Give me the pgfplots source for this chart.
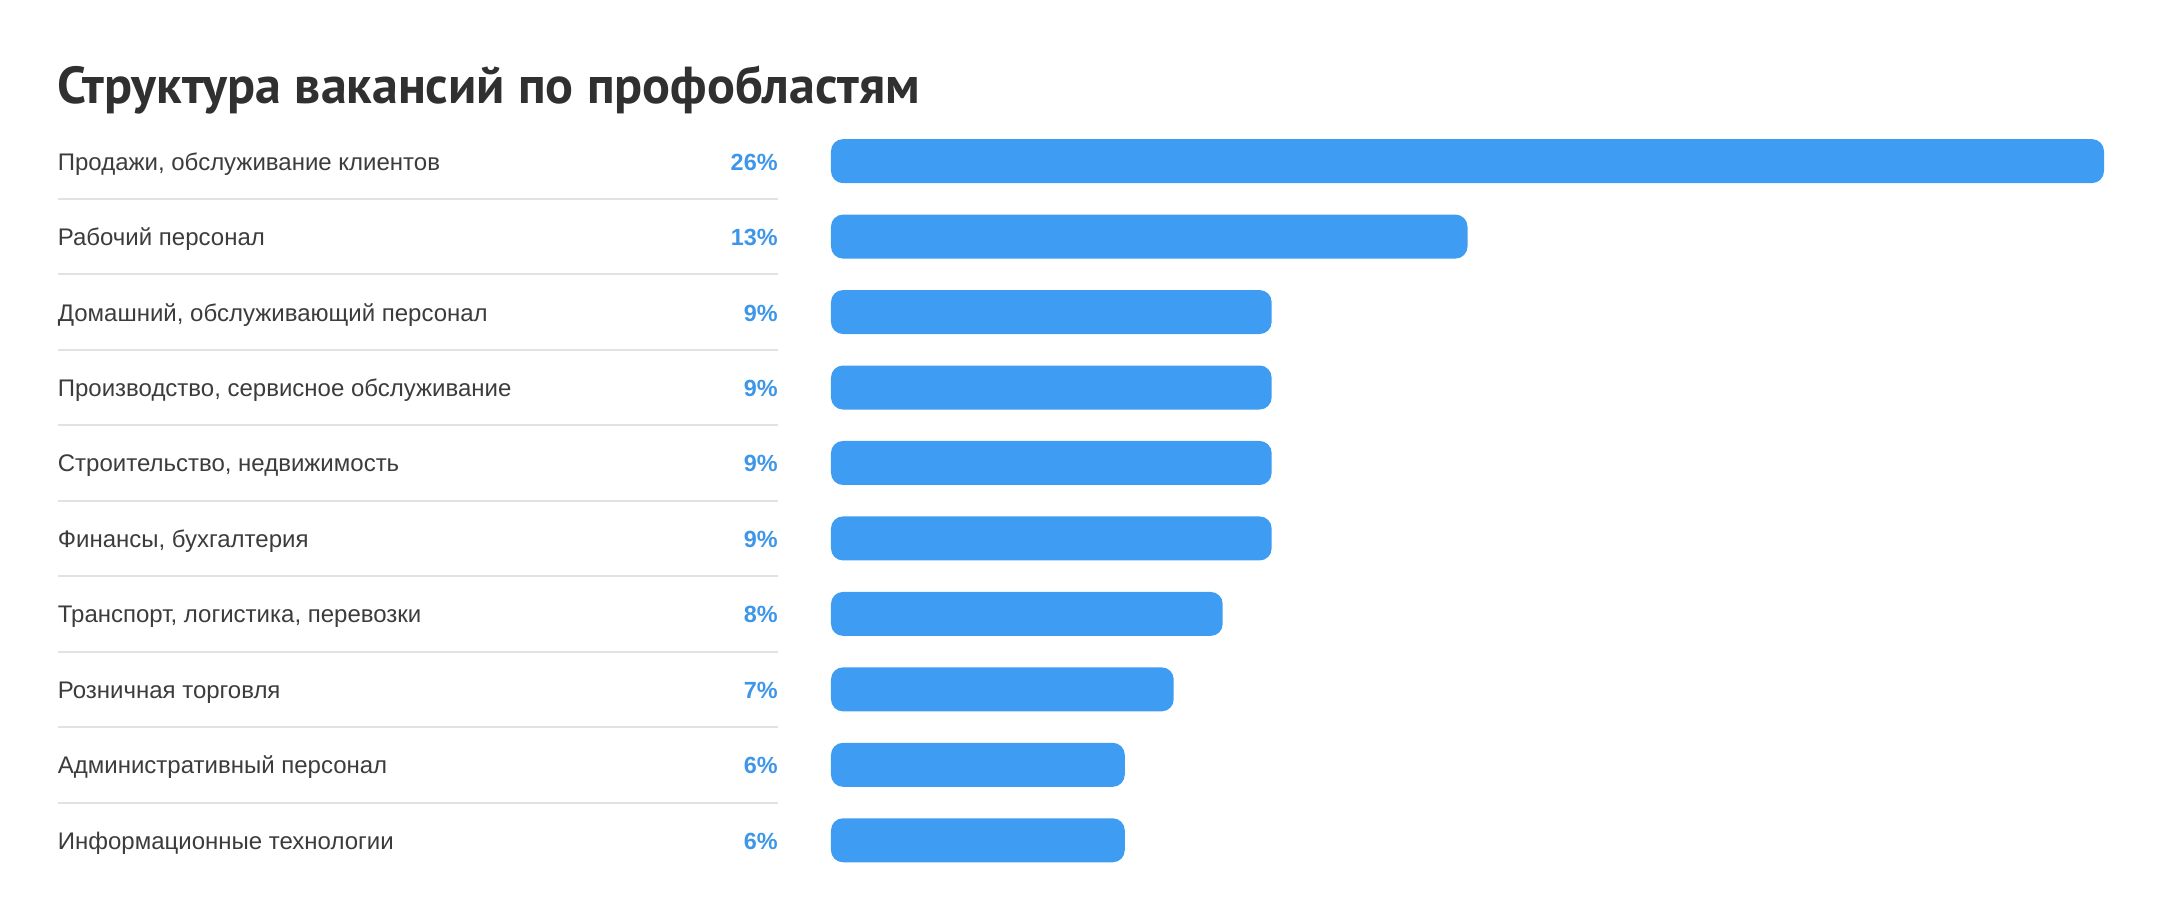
\documentclass[border=0pt]{standalone}
\usepackage{fontspec}
\setmainfont{Liberation Sans}
\newfontfamily\titlefont{PT Sans}
\usepackage{pgfplots}
\usepackage{pgfplotstable}
\pgfplotsset{compat=1.18}

\definecolor{barblue}{HTML}{3F9CF3}
\definecolor{pctblue}{HTML}{3D96E8}
\definecolor{labelgray}{HTML}{3C3C3C}
\definecolor{titlegray}{HTML}{303030}
\definecolor{sepgray}{HTML}{E2E2E2}

\pgfplotstableread[col sep=semicolon]{
idx;share;name
0;26;Продажи, обслуживание клиентов
1;13;Рабочий персонал
2;9;Домашний, обслуживающий персонал
3;9;Производство, сервисное обслуживание
4;9;Строительство, недвижимость
5;9;Финансы, бухгалтерия
6;8;Транспорт, логистика, перевозки
7;7;Розничная торговля
8;6;Административный персонал
9;6;Информационные технологии
}\data

\begin{document}
\begin{tikzpicture}
\useasboundingbox (0,0) rectangle (1080pt,-459.5pt);
\node[anchor=base west, inner sep=0pt, text=titlegray,
  font=\titlefont\bfseries\fontsize{26}{31}\selectfont] at (28.4pt,-51.7pt)
  {Структура вакансий по профобластям};
\begin{axis}[
  at={(415.5pt,-439pt)}, anchor=south west,
  scale only axis, width=636.5pt, height=377.3pt,
  xmin=0, xmax=26, ymin=-0.5, ymax=9.5, y dir=reverse,
  enlargelimits=false, clip=false,
  axis line style={draw=none}, tick style={draw=none},
  xtick=\empty, ytick={0,...,9},
  yticklabels from table={\data}{name},
  yticklabel style={anchor=base west, inner sep=0pt, xshift=-382.5pt, yshift=-4.5pt,
    text=labelgray, font=\fontsize{12}{14}\selectfont},
  xbar, bar width=22pt,
]
% 636.5pt / 26 = 24.481pt per percent
\addplot[fill=barblue, draw=none, rounded corners=6pt,
  point meta=x,
  visualization depends on={rawx \as \share},
  nodes near coords={\pgfmathprintnumber[assume math mode=true]{\pgfplotspointmeta}\%},
  every node near coord/.style={anchor=base east, inner sep=0pt,
    xshift={-(26.5+24.481*\share)*1pt}, yshift=-4.5pt,
    text=pctblue, font=\bfseries\fontsize{11.7}{14}\selectfont},
] table[x=share, y=idx] {\data};
\pgfplotsinvokeforeach{0.5,1.5,2.5,3.5,4.5,5.5,6.5,7.5,8.5}{
  \draw[sepgray, line width=1pt] ([xshift=-386.5pt]axis cs:0,#1) -- ([xshift=-26.5pt]axis cs:0,#1);
}
\end{axis}
\end{tikzpicture}
\end{document}
